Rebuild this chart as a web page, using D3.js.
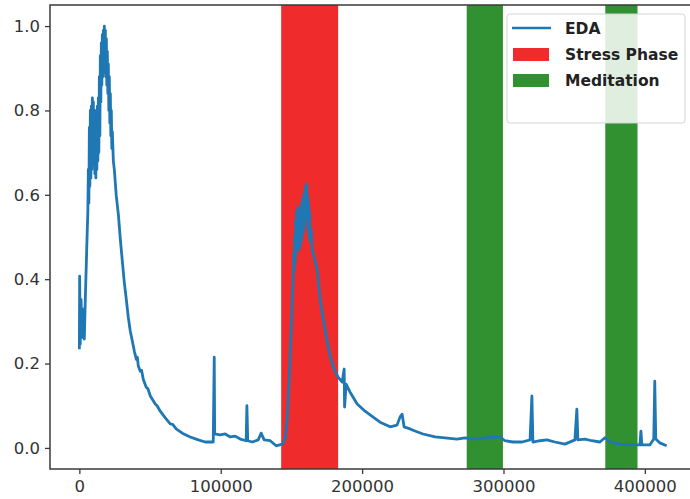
<!DOCTYPE html>
<html>
<head>
<meta charset="utf-8">
<script src="https://cdn.jsdelivr.net/npm/d3@7"></script>
<style>
  body { margin: 0; background: #fff; }
  svg { display: block; font-family: "DejaVu Sans", sans-serif; }
</style>
</head>
<body>
<div id="chart-area"></div>
<script>
// EDA signal (sample index, normalised value)
const edaTime = [
    0, 200, 600, 1200, 2000, 2800, 3500, 4200, 5000, 5600,
    6000, 6360, 6710, 7070, 7420, 7770, 8130, 8480, 8830, 9190, 9540, 9890, 10250, 10600, 10950,
    11310, 11660, 12010, 12370, 12720, 13070, 13430, 13780, 14130, 14490, 14840, 15190, 15550, 15900,
    16250, 16610, 16960, 17310, 17670, 18020, 18370, 18730, 19080, 19430, 19790, 20140, 20490, 20850,
    21200, 21550, 21910, 22260, 22610, 22970, 23320, 24030, 24730,
    26100, 27600, 29000, 30400, 31800, 33200, 34600, 36000,
    37500, 38900, 40300, 41000, 41700, 43100, 44000, 45200, 47300, 48500, 50200, 53700, 55000, 57200, 60800, 64300, 66000, 68500, 72800,
    78400, 84100, 89000, 94700, 95400, 95700, 99600, 103200, 106700, 110200, 113800, 118000, 118500,
    119100, 122300, 126500, 128600, 130700, 135000, 139200, 143500, 145600, 147000, 148400, 149800,
    151200, 151600, 151900, 152300, 152600, 153000, 153300, 153700, 154000, 154400, 154700, 155100,
    155500, 155800, 156200, 156500, 156900, 157200, 157600, 157900, 158300, 158700, 159000, 159400,
    159700, 160100, 160400, 160800, 161100, 161500, 161800, 162200, 162500, 162900, 163200, 163900,
    164700, 166100, 168200, 170300, 171700, 174500, 177400,
    180200, 183000, 185900, 187300, 187600, 188700, 191500, 196500, 202100, 207800, 212700, 219800,
    224700, 226800, 228300, 229700, 233900, 237400, 243100, 251600, 258600, 267100, 272800, 278400,
    286900, 297500, 301000, 306700, 313100, 318800, 320100, 320800, 325800, 330700, 336400, 343500,
    350500, 351900, 352600, 357600, 362500, 368200, 371700, 375300, 382300, 389400, 396500, 397200,
    397900, 403500, 406300, 407000, 407700, 410500, 415400
];
const edaValue = [
    0.234, 0.407, 0.246, 0.352, 0.262, 0.329, 0.258, 0.352, 0.447, 0.518,
    0.560, 0.660, 0.580, 0.760, 0.620, 0.800, 0.640, 0.810, 0.660, 0.830, 0.680, 0.820, 0.670, 0.800, 0.650,
    0.790, 0.640, 0.800, 0.660, 0.810, 0.680, 0.830, 0.700, 0.880, 0.740, 0.930, 0.820, 0.960, 0.860,
    0.980, 0.880, 0.990, 0.900, 1.000, 0.890, 0.990, 0.880, 0.970, 0.860, 0.940, 0.840, 0.910, 0.800,
    0.880, 0.770, 0.840, 0.740, 0.800, 0.710, 0.750, 0.680, 0.660,
    0.598, 0.553, 0.494, 0.442, 0.392, 0.352, 0.310, 0.277,
    0.253, 0.229, 0.210, 0.215, 0.194, 0.182, 0.184, 0.163, 0.144, 0.140, 0.123, 0.104, 0.100, 0.087, 0.071, 0.057, 0.056, 0.045, 0.035,
    0.026, 0.019, 0.014, 0.014, 0.215, 0.033, 0.031, 0.033, 0.026, 0.028, 0.021, 0.017, 0.100,
    0.017, 0.014, 0.019, 0.035, 0.019, 0.017, 0.005, 0.009, 0.021, 0.069, 0.163, 0.281,
    0.400, 0.460, 0.420, 0.500, 0.440, 0.540, 0.460, 0.560, 0.470, 0.570, 0.480, 0.560,
    0.470, 0.550, 0.480, 0.570, 0.490, 0.580, 0.500, 0.590, 0.510, 0.600, 0.520, 0.610,
    0.540, 0.620, 0.560, 0.626, 0.540, 0.600, 0.520, 0.580, 0.500, 0.560, 0.490, 0.520,
    0.470, 0.452, 0.423, 0.352, 0.322, 0.267, 0.217,
    0.187, 0.168, 0.156, 0.187, 0.097, 0.151, 0.132, 0.104, 0.087, 0.073, 0.061, 0.050,
    0.054, 0.073, 0.080, 0.050, 0.045, 0.040, 0.033, 0.026, 0.024, 0.021, 0.024, 0.021,
    0.024, 0.026, 0.017, 0.014, 0.014, 0.019, 0.123, 0.014, 0.017, 0.019, 0.014, 0.009,
    0.019, 0.092, 0.019, 0.021, 0.017, 0.014, 0.024, 0.014, 0.009, 0.007, 0.007, 0.040,
    0.007, 0.007, 0.021, 0.158, 0.021, 0.012, 0.005
];

// shaded phases [start, end]
const stressPhases = [[142760, 183040]];
const meditationPhases = [[274000, 299600], [372000, 394800]];

const xTicks = [0, 100000, 200000, 300000, 400000];
const yTicks = [0.0, 0.2, 0.4, 0.6, 0.8, 1.0];
const legendLabels = ["EDA", "Stress Phase", "Meditation"];

const margins = { top: 5, right: -6, bottom: 30, left: 50 },
    chartWidth = 690 - margins.left - margins.right,
    chartHeight = 499 - margins.top - margins.bottom;

const svgRoot = d3.select("#chart-area")
    .append("svg")
    .attr("width", 690)
    .attr("height", 499);

const chartSvg = svgRoot.append("g")
    .attr("transform", `translate(${margins.left},${margins.top})`);

// matplotlib-style 5% padding around the data
const xMax = d3.max(edaTime);
const scaleX = d3.scaleLinear().domain([-0.05 * xMax, 1.05 * xMax]).range([0, chartWidth]);
const scaleY = d3.scaleLinear().domain([-0.05, 1.05]).range([chartHeight, 0]);

const red = "#f02b2b", green = "#31902f", blue = "#1f77b4";

chartSvg.selectAll(".stress")
    .data(stressPhases)
    .enter().append("rect")
    .attr("class", "stress")
    .attr("x", d => scaleX(d[0]))
    .attr("width", d => scaleX(d[1]) - scaleX(d[0]))
    .attr("y", 0)
    .attr("height", chartHeight)
    .attr("fill", red);

chartSvg.selectAll(".meditation")
    .data(meditationPhases)
    .enter().append("rect")
    .attr("class", "meditation")
    .attr("x", d => scaleX(d[0]))
    .attr("width", d => scaleX(d[1]) - scaleX(d[0]))
    .attr("y", 0)
    .attr("height", chartHeight)
    .attr("fill", green);

const edaLine = d3.line()
    .x(d => scaleX(d[0]))
    .y(d => scaleY(d[1]));

chartSvg.append("path")
    .datum(d3.zip(edaTime, edaValue))
    .attr("fill", "none")
    .attr("stroke", blue)
    .attr("stroke-width", 2.8)
    .attr("stroke-linejoin", "round")
    .attr("d", edaLine);

const bottomAxis = d3.axisBottom(scaleX)
    .tickValues(xTicks)
    .tickFormat(d => d)
    .tickSizeOuter(0)
    .tickSize(5)
    .tickPadding(6);
const leftAxis = d3.axisLeft(scaleY)
    .tickValues(yTicks)
    .tickFormat(d3.format(".1f"))
    .tickSizeOuter(0)
    .tickSize(5)
    .tickPadding(5);

const gx = chartSvg.append("g")
    .attr("transform", `translate(0,${chartHeight})`)
    .call(bottomAxis);
const gy = chartSvg.append("g")
    .call(leftAxis);

[gx, gy].forEach(g => {
    g.select(".domain").remove();
    g.selectAll("line").attr("stroke", "#3a3a3a").attr("stroke-width", 1.3);
    g.selectAll("text")
        .attr("fill", "#333")
        .style("font-size", "16.5px")
        .style("font-family", "DejaVu Sans, sans-serif");
});

// frame
chartSvg.append("rect")
    .attr("x", 0)
    .attr("y", 0)
    .attr("width", chartWidth)
    .attr("height", chartHeight)
    .attr("fill", "none")
    .attr("stroke", "#3a3a3a")
    .attr("stroke-width", 1.5);

// legend
const legend = svgRoot.append("g")
    .attr("class", "legend")
    .attr("transform", "translate(507,14)");

legend.append("rect")
    .attr("width", 178)
    .attr("height", 109)
    .attr("rx", 3)
    .attr("fill", "white")
    .attr("fill-opacity", 0.85)
    .attr("stroke", "#d4d4d4");

const legendRows = legend.selectAll(".legend-row")
    .data(legendLabels)
    .enter().append("g")
    .attr("class", "legend-row")
    .attr("transform", (d, i) => `translate(0, ${14 + i * 26})`);

legendRows.filter((d, i) => i === 0).append("line")
    .attr("x1", 5)
    .attr("x2", 44)
    .attr("y1", 0)
    .attr("y2", 0)
    .attr("stroke", blue)
    .attr("stroke-width", 2.6);

legendRows.filter((d, i) => i > 0).append("rect")
    .attr("x", 6)
    .attr("y", -6)
    .attr("width", 36)
    .attr("height", 13)
    .attr("fill", (d, i) => i === 0 ? red : green);

legendRows.append("text")
    .attr("x", 58)
    .attr("y", 6)
    .attr("font-size", "15.5px")
    .attr("font-weight", "bold")
    .attr("fill", "#222")
    .text(d => d);
</script>
</body>
</html>
